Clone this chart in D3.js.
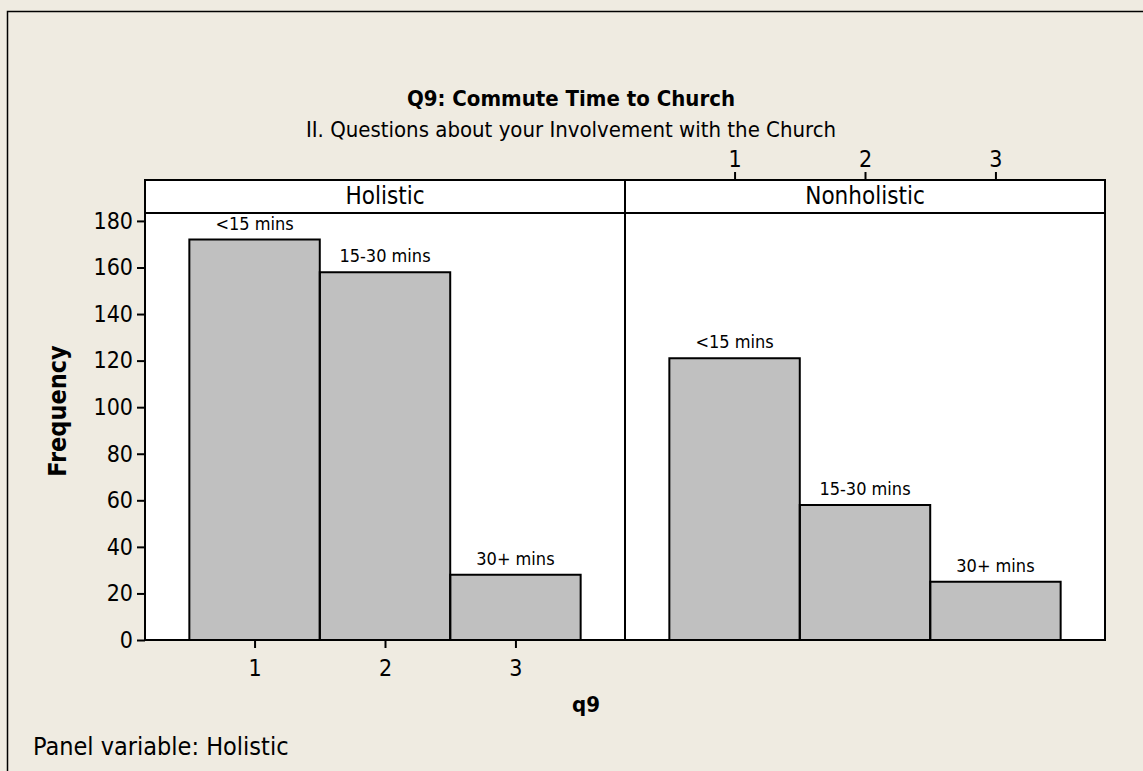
<!DOCTYPE html>
<html>
<head>
<meta charset="utf-8">
<script src="https://cdnjs.cloudflare.com/ajax/libs/d3/7.8.5/d3.min.js"></script>
<style>
  body { margin: 0; background: #EFEBE1; }
  text { font-family: Tahoma, "DejaVu Sans Condensed", "DejaVu Sans", sans-serif; fill: #000; }
</style>
</head>
<body>
<div id="chart"></div>
<script>
// data
var panels = ["Holistic", "Nonholistic"];
var categories = [1, 2, 3];
var barLabels = ["<15 mins", "15-30 mins", "30+ mins"];
var holisticCounts = [172, 158, 28];
var nonholisticCounts = [121, 58, 25];
var yTicks = [0, 20, 40, 60, 80, 100, 120, 140, 160, 180];

var width = 1143, height = 771;

// plot frame
var plot = {left: 145, right: 1105, stripTop: 180, top: 213, bottom: 640};
var panelWidth = (plot.right - plot.left) / panels.length;

var svg = d3.select("#chart").append("svg")
    .attr("width", width)
    .attr("height", height);

// outer background + border (only top/left visible in the crop)
svg.append("rect")
    .attr("x", 0).attr("y", 0).attr("width", width).attr("height", height)
    .attr("fill", "#EFEBE1");
svg.append("path")
    .attr("d", "M7.5," + height + " L7.5,11.5 L" + width + ",11.5")
    .attr("fill", "none").attr("stroke", "#000").attr("stroke-width", 1.5);

// scales
var y = d3.scaleLinear()
    .domain([0, 183.4])
    .range([plot.bottom, plot.top]);

function xScale(i) {
  var x0 = plot.left + i * panelWidth;
  return d3.scaleLinear()
    .domain([0.16, 3.84])
    .range([x0, x0 + panelWidth]);
}

function styleAxis(a) {
  a.select(".domain").remove();
  a.selectAll(".tick line").attr("stroke-width", 2);
  a.selectAll("text").attr("font-size", "23px");
}

// white plot area
svg.append("rect")
    .attr("x", plot.left).attr("y", plot.stripTop)
    .attr("width", plot.right - plot.left).attr("height", plot.bottom - plot.stripTop)
    .attr("fill", "#fff");

var allCounts = [holisticCounts, nonholisticCounts];

panels.forEach(function(name, i) {
  var x = xScale(i);
  var counts = allCounts[i];
  var bw = x(1.5) - x(0.5);

  var g = svg.append("g").attr("class", "panel");

  // bars: fill, then left/top/right edges in black
  g.selectAll(".bar")
    .data(counts)
    .enter().append("rect")
      .attr("class", "bar")
      .attr("x", function(d, j) { return x(categories[j]) - bw / 2; })
      .attr("y", function(d) { return y(d); })
      .attr("width", bw)
      .attr("height", function(d) { return y(0) - y(d); })
      .attr("fill", "#C0C0C0");

  g.selectAll(".bar-edge")
    .data(counts)
    .enter().append("path")
      .attr("class", "bar-edge")
      .attr("d", function(d, j) {
        var l = x(categories[j]) - bw / 2, r = l + bw;
        return "M" + l + "," + y(0) + " L" + l + "," + y(d) + " L" + r + "," + y(d) + " L" + r + "," + y(0);
      })
      .attr("fill", "none")
      .attr("stroke", "#000")
      .attr("stroke-width", 2);

  // bottom baseline: black outside bars, gray under bars
  g.append("line")
    .attr("x1", x.range()[0]).attr("x2", x.range()[1])
    .attr("y1", y(0)).attr("y2", y(0))
    .attr("stroke", "#000").attr("stroke-width", 2);
  g.append("line")
    .attr("x1", x(categories[0]) - bw / 2 + 1).attr("x2", x(categories[2]) + bw / 2 - 1)
    .attr("y1", y(0)).attr("y2", y(0))
    .attr("stroke", "#999").attr("stroke-width", 2);

  // labels above bars
  g.selectAll(".bar-label")
    .data(counts)
    .enter().append("text")
      .attr("class", "bar-label")
      .attr("x", function(d, j) { return x(categories[j]); })
      .attr("y", function(d) { return y(d) - 10; })
      .attr("text-anchor", "middle")
      .attr("font-size", "18px")
      .text(function(d, j) { return barLabels[j]; });

  // strip label
  g.append("text")
    .attr("x", (x.range()[0] + x.range()[1]) / 2)
    .attr("y", 204)
    .attr("text-anchor", "middle")
    .attr("font-size", "24px")
    .text(name);

  // x axis: bottom on the first panel, top on the second
  if (i === 0) {
    svg.append("g")
      .attr("transform", "translate(0," + plot.bottom + ")")
      .call(d3.axisBottom(x).tickValues(categories).tickFormat(d3.format("d")).tickSize(8).tickPadding(12))
      .call(styleAxis);
  } else {
    svg.append("g")
      .attr("transform", "translate(0," + plot.stripTop + ")")
      .call(d3.axisTop(x).tickValues(categories).tickFormat(d3.format("d")).tickSize(8).tickPadding(5))
      .call(styleAxis);
  }
});

// frame lines
svg.append("rect")
    .attr("x", plot.left).attr("y", plot.stripTop)
    .attr("width", plot.right - plot.left).attr("height", plot.bottom - plot.stripTop)
    .attr("fill", "none").attr("stroke", "#000").attr("stroke-width", 2);
svg.append("line")
    .attr("x1", plot.left).attr("x2", plot.right)
    .attr("y1", plot.top).attr("y2", plot.top)
    .attr("stroke", "#000").attr("stroke-width", 2);
svg.append("line")
    .attr("x1", plot.left + panelWidth).attr("x2", plot.left + panelWidth)
    .attr("y1", plot.stripTop).attr("y2", plot.bottom)
    .attr("stroke", "#000").attr("stroke-width", 2);

// y axis
svg.append("g")
    .attr("transform", "translate(" + plot.left + ",0)")
    .call(d3.axisLeft(y).tickValues(yTicks).tickSize(8).tickPadding(4))
    .call(styleAxis);

// titles
svg.append("text")
    .attr("x", 571).attr("y", 106)
    .attr("text-anchor", "middle")
    .attr("font-size", "22px").attr("font-weight", "bold")
    .text("Q9: Commute Time to Church");
svg.append("text")
    .attr("x", 571).attr("y", 137)
    .attr("text-anchor", "middle")
    .attr("font-size", "22px")
    .text("II. Questions about your Involvement with the Church");

svg.append("text")
    .attr("transform", "translate(66,411) rotate(-90)")
    .attr("text-anchor", "middle")
    .attr("font-size", "25px").attr("font-weight", "bold")
    .text("Frequency");

svg.append("text")
    .attr("x", 586).attr("y", 712)
    .attr("text-anchor", "middle")
    .attr("font-size", "22px").attr("font-weight", "bold")
    .text("q9");

svg.append("text")
    .attr("x", 33).attr("y", 755)
    .attr("font-size", "25px")
    .text("Panel variable: Holistic");
</script>
</body>
</html>
